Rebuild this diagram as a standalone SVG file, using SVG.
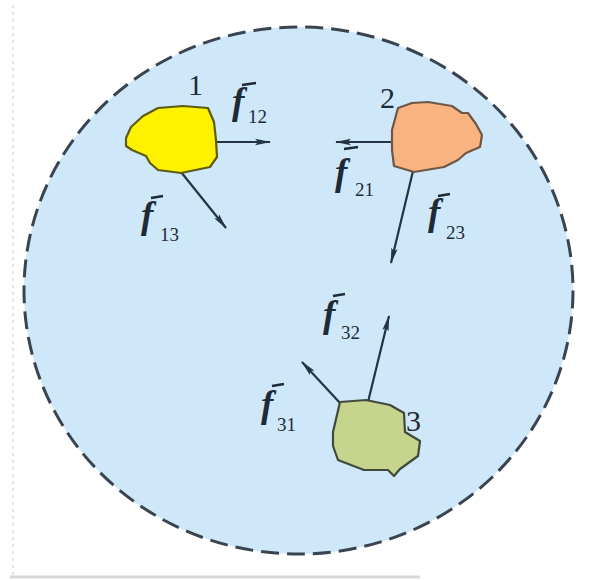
<svg xmlns="http://www.w3.org/2000/svg" width="599" height="581" viewBox="0 0 599 581">
<style>
.num{font-family:"Liberation Serif","Times New Roman",serif;font-size:30px;fill:#1e2a36}
.f{font-family:"Liberation Serif","Times New Roman",serif;font-style:italic;font-weight:bold;font-size:37px;fill:#1e2a36}
.sub{font-family:"Liberation Serif","Times New Roman",serif;font-size:19px;fill:#1e2a36}
.bar{stroke:#1e2a36;stroke-width:2.4;fill:none}
.vec{stroke:#243444;stroke-width:2.2;fill:none}
</style>
<defs>
<marker id="ah" viewBox="0 0 16 8" refX="15" refY="4" markerWidth="16" markerHeight="8" markerUnits="userSpaceOnUse" orient="auto">
<path d="M0,0.8 L16,4 L0,7.2 L3,4 Z" fill="#243444"/>
</marker>
</defs>
<rect x="0" y="0" width="599" height="581" fill="#ffffff"/>
<line x1="13" y1="5" x2="13" y2="575" stroke="#e4e4e4" stroke-width="2" stroke-dasharray="3,4"/>
<line x1="10" y1="577" x2="420" y2="577" stroke="#d8d8d8" stroke-width="3"/>
<g id="system">
<ellipse cx="298.5" cy="290.5" rx="274.5" ry="263.5" fill="#cfe8f9" stroke="#3a4450" stroke-width="3" stroke-dasharray="18,8"/>
</g>
<g id="connectors">
<line class="vec" x1="217" y1="142" x2="270" y2="142" marker-end="url(#ah)"/>
<line class="vec" x1="181" y1="172" x2="226" y2="228" marker-end="url(#ah)"/>
<line class="vec" x1="393" y1="142" x2="336" y2="142" marker-end="url(#ah)"/>
<line class="vec" x1="413" y1="171" x2="391" y2="263" marker-end="url(#ah)"/>
<line class="vec" x1="368" y1="402" x2="389" y2="316" marker-end="url(#ah)"/>
<line class="vec" x1="340" y1="403" x2="302" y2="362" marker-end="url(#ah)"/>
</g>
<g id="body1">
<path d="M126,138 L131,127 L143,116 L158,108 L183,106 L208,108 L214,122 L216,140 L217,157 L210,167 L181,173 L158,170 L150,163 L146,156 L132,150 L126,146 Z" fill="#fff200" stroke="#5c5a14" stroke-width="2.2" stroke-linejoin="round"/>
<text class="num" x="188" y="95">1</text>
</g>
<g id="body2">
<path d="M398,108 L412,103 L428,102 L452,106 L462,113 L468,113 L476,124 L482,135 L480,147 L466,153 L458,160 L444,167 L414,172 L394,166 L392,150 L392,130 Z" fill="#f9b381" stroke="#6e5746" stroke-width="2.2" stroke-linejoin="round"/>
<text class="num" x="380" y="108">2</text>
</g>
<g id="body3">
<path d="M340,402 L366,400 L390,405 L404,413 L405,432 L420,441 L418,456 L400,469 L394,476 L388,470 L364,470 L338,460 L333,446 L333,432 Z" fill="#c7d48e" stroke="#3f4a3c" stroke-width="2.2" stroke-linejoin="round"/>
<text class="num" x="406" y="431">3</text>
</g>
<g id="labels">
<g id="f12"><line class="bar" x1="242" y1="85" x2="256" y2="83"/><text class="f" x="232" y="114">f</text><text class="sub" x="248" y="123">12</text></g>
<g id="f13"><line class="bar" x1="151" y1="198" x2="163" y2="196"/><text class="f" x="141" y="228">f</text><text class="sub" x="160" y="241">13</text></g>
<g id="f21"><line class="bar" x1="344" y1="149" x2="358" y2="147"/><text class="f" x="335" y="185">f</text><text class="sub" x="355" y="196">21</text></g>
<g id="f23"><line class="bar" x1="438" y1="196" x2="450" y2="194"/><text class="f" x="428" y="225">f</text><text class="sub" x="446" y="239">23</text></g>
<g id="f32"><line class="bar" x1="333" y1="296" x2="345" y2="294"/><text class="f" x="323" y="327">f</text><text class="sub" x="341" y="339">32</text></g>
<g id="f31"><line class="bar" x1="272" y1="386" x2="284" y2="384"/><text class="f" x="261" y="417">f</text><text class="sub" x="277" y="431">31</text></g>
</g>
</svg>
